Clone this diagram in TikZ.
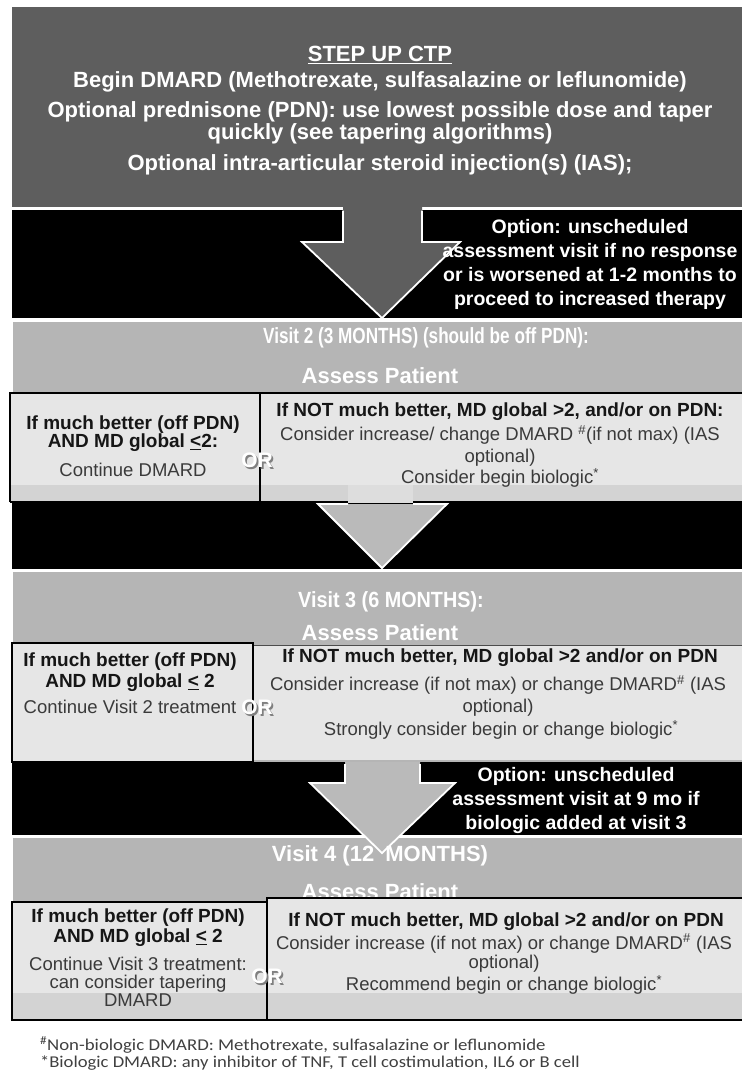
\documentclass[tikz,border=0pt]{standalone}
\usepackage{fontspec}
\usepackage{graphicx}
\setmainfont{Liberation Sans}
\newfontfamily\notefont{Carlito}
\usetikzlibrary{calc}
\definecolor{topgray}{HTML}{5E5E5E}
\definecolor{bandgray}{HTML}{B5B5B5}
\definecolor{boxfill}{HTML}{E6E6E6}
\definecolor{stripfill}{HTML}{D3D3D3}
\definecolor{arrowgray}{HTML}{BABABA}
\definecolor{boldtxt}{HTML}{161616}
\definecolor{regtxt}{HTML}{3A3A3A}
\definecolor{notetxt}{HTML}{404040}
\begin{document}
\begin{tikzpicture}[x=1pt,y=-1pt,
  every node/.style={inner sep=0pt,outer sep=0pt},
  panel/.style={anchor=north west,minimum width=#1},
  toptxt/.style={text=white,font=\bfseries\fontsize{22}{20}\selectfont,align=center},
  opttxt/.style={text=white,font=\bfseries\fontsize{19.5}{24}\selectfont,align=center},
  visittxt/.style={text=white,font=\bfseries\fontsize{22}{22}\selectfont},
  boxbold/.style={text=boldtxt,font=\bfseries\fontsize{19}{#1}\selectfont,align=center},
  boxbold/.default=19,
  boxreg/.style={text=regtxt,font=\fontsize{18.5}{#1}\selectfont,align=center},
  boxreg/.default=22,
  ortxt/.style={text=white,font=\bfseries\fontsize{21}{21}\selectfont},
  orshadow/.style={text=black!50,font=\bfseries\fontsize{21}{21}\selectfont},
  notetext/.style={text=notetxt,font=\notefont\fontsize{16.5}{16.5}\selectfont,anchor=west},
  whiteline/.style={draw=white,line width=1.8pt,line join=miter},
  boxline/.style={draw=black,line width=1.6pt}
]
\useasboundingbox[fill=white] (0,0) rectangle (741,1070);

% ---------- top box ----------
\node[panel=733pt,minimum height=200pt,fill=topgray] (topbox) at (12,7) {};
\node[toptxt] (t1) at (380,55) {\underline{STEP UP CTP}};
\node[toptxt] (t2) at (380,82) {Begin DMARD (Methotrexate, sulfasalazine or leflunomide)};
\node[toptxt] (t3) at (380,123) {Optional prednisone (PDN): use lowest possible dose and taper\\quickly (see tapering algorithms)};
\node[toptxt] (t4) at (380,165) {Optional intra-articular steroid injection(s) (IAS);};

% ---------- band 1 ----------
\node[panel=733pt,minimum height=108pt,fill=black] (band1) at (12,210) {};
\fill[topgray] (343,200) -- (343,242) -- (302,242) -- (382,318) -- (460,242) -- (422,242) -- (422,200) -- cycle;
\draw[whiteline] (343,210.5) -- (343,242) -- (302,242) -- (382,318) -- (460,242) -- (422,242) -- (422,210.5);
\node[opttxt] (opt1) at (590,264) {Option: unscheduled\\assessment visit if no response\\or is worsened at 1-2 months to\\proceed to increased therapy};

% ---------- visit 2 ----------
\node[panel=732pt,minimum height=180pt,fill=bandgray] (v2band) at (13,322) {};
\node[visittxt] (v2t) at (426,338) {\scalebox{0.78}[1]{Visit 2 (3 MONTHS) (should be off PDN):}};
\node[visittxt] (v2a) at (380,376) {Assess Patient};
\node[panel=250pt,minimum height=109pt,fill=boxfill] (v2l) at (10,393) {};
\node[panel=485pt,minimum height=109pt,fill=boxfill] (v2r) at (260,393) {};
\fill[stripfill] (11,485) rectangle (745,501.5);
\fill[boxfill!96!black] (348,485) rectangle (413,506);
\draw[boxline] (v2l.south west) -- (v2l.north west) -- (745,393);
\draw[boxline] (v2l.south west) -- (348,502);
\draw[boxline] (413,502) -- (745,502);
\draw[boxline] (v2l.north east) -- (v2l.south east);

% ---------- band 2 ----------
\node[panel=733pt,minimum height=66pt,fill=black] (band2) at (12,502.8) {};
\fill[arrowgray] (348,504) -- (318,504) -- (382,568) -- (447,504) -- (413,504) -- cycle;
\draw[whiteline] (348,504) -- (318,504) -- (382,568) -- (447,504) -- (413,504);

% ---------- visit 3 ----------
\node[panel=732pt,minimum height=190pt,fill=bandgray] (v3band) at (13,572) {};
\node[visittxt] (v3t) at (391,602) {\scalebox{0.9}[1]{Visit 3 (6 MONTHS):}};
\node[visittxt] (v3a) at (380,633) {Assess Patient};
\node[panel=492pt,minimum height=115pt,fill=boxfill] (v3r) at (253,645) {};
\draw[draw=black!70,line width=1pt] (253,645) -- (745,645);
\node[panel=241pt,minimum height=119pt,fill=boxfill,boxline] (v3l) at (12,643) {};

% ---------- band 3 ----------
\node[panel=733pt,minimum height=73pt,fill=black] (band3) at (12,762) {};

% ---------- visit 4 ----------
\node[panel=732pt,minimum height=182pt,fill=bandgray] (v4band) at (13,838) {};
\fill[arrowgray] (345,762) -- (345,783) -- (310,783) -- (382,853) -- (455,783) -- (420,783) -- (420,762) -- cycle;
\draw[whiteline] (345,764) -- (345,783) -- (310,783) -- (382,853) -- (455,783) -- (420,783) -- (420,764);
\node[opttxt] (opt3) at (576,800) {Option: unscheduled\\assessment visit at 9 mo if\\biologic added at visit 3};
\node[visittxt] (v4t) at (380,856) {Visit 4 (12\hspace{5pt} MONTHS)};
\node[visittxt] (v4a) at (380,892) {Assess Patient};
\node[panel=255pt,minimum height=118pt,fill=boxfill] (v4l) at (12,902) {};
\node[panel=478pt,minimum height=122pt,fill=boxfill] (v4r) at (267,898) {};
\fill[stripfill] (13,993) rectangle (745,1019);
\draw[boxline] (v4l.north east) -- (v4l.north west) -- (v4l.south west) -- (745,1020);
\draw[boxline] (v4l.south east) -- (267,898) -- (745,898);

% ---------- box texts ----------
\node[boxbold=18] (v2lh) at (133,434) {If much better (off PDN)\\AND MD global \underline{<}2:};
\node[boxreg] (v2lt) at (133,470) {Continue DMARD};
\node[boxbold] (v2rh) at (500,412) {If NOT much better, MD global >2, and/or on PDN:};
\node[boxreg] (v2rt) at (500,446) {Consider increase/ change DMARD \textsuperscript{\#}(if not max) (IAS\\optional)};
\node[boxreg] (v2rb) at (500,478) {Consider begin biologic\textsuperscript{*}};

\node[boxbold=21] (v3lh) at (130,672.5) {If much better (off PDN)\\AND MD global \underline{<} 2};
\node[boxreg] (v3lt) at (130,707) {Continue Visit 2 treatment};
\node[boxbold] (v3rh) at (500,658) {If NOT much better, MD global >2 and/or on PDN};
\node[boxreg] (v3rt) at (498,696) {Consider increase (if not max) or change DMARD\textsuperscript{\#} (IAS\\optional)};
\node[boxreg] (v3rb) at (501,730) {Strongly consider begin or change biologic\textsuperscript{*}};

\node[boxbold=20] (v4lh) at (138,928) {If much better (off PDN)\\AND MD global \underline{<} 2};
\node[boxreg=18] (v4lt) at (138,982) {Continue Visit 3 treatment:\\can consider tapering\\DMARD};
\node[boxbold] (v4rh) at (506,922) {If NOT much better, MD global >2 and/or on PDN};
\node[boxreg=19] (v4rt) at (504,953) {Consider increase (if not max) or change DMARD\textsuperscript{\#} (IAS\\optional)};
\node[boxreg] (v4rb) at (504,985) {Recommend begin or change biologic\textsuperscript{*}};

% ---------- OR labels ----------
\node[orshadow] (or2s) at (258.8,461.8) {OR};
\node[ortxt] (or2) at (257,460) {OR};
\node[orshadow] (or3s) at (258.8,708.8) {OR};
\node[ortxt] (or3) at (257,707) {OR};
\node[orshadow] (or4s) at (268.8,977.8) {OR};
\node[ortxt] (or4) at (267,976) {OR};

% ---------- footnotes ----------
\node[notetext] (n1) at (40,1045) {\scalebox{1.14}[1]{\textsuperscript{\#}Non-biologic DMARD: Methotrexate, sulfasalazine or leflunomide}};
\node[notetext] (n2) at (40,1063) {\scalebox{1.13}[1]{*Biologic DMARD: any inhibitor of TNF, T cell costimulation, IL6 or B cell}};
\end{tikzpicture}
\end{document}
